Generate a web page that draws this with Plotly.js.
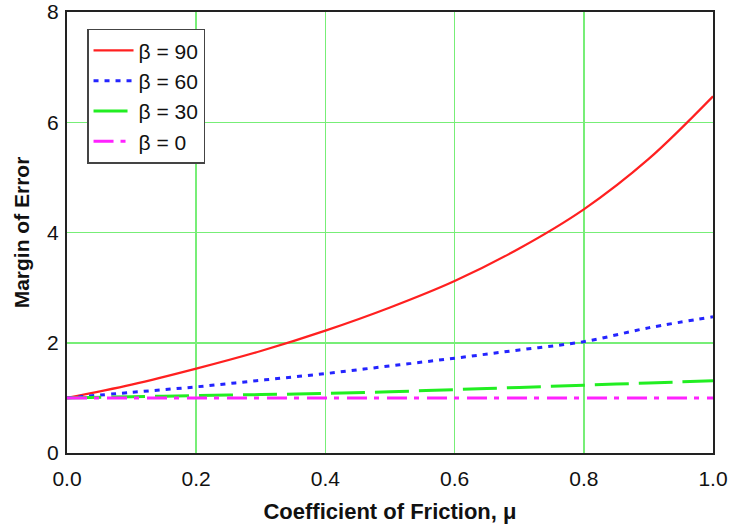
<!DOCTYPE html>
<html>
<head>
<meta charset="utf-8">
<script src="https://cdn.plot.ly/plotly-3.0.1.min.js"></script>
<style>html,body{margin:0;padding:0;background:#fff;}#chart{width:745px;height:526px;}</style>
</head>
<body>
<div id="chart"></div>
<script>
const mu = [0.0, 0.1, 0.2, 0.3, 0.4, 0.5, 0.6, 0.7, 0.8, 0.9, 1.0];
const beta90 = [1.0, 1.24, 1.53, 1.85, 2.22, 2.64, 3.12, 3.71, 4.42, 5.33, 6.47];
const beta60 = [1.0, 1.1, 1.2, 1.32, 1.44, 1.58, 1.72, 1.87, 2.02, 2.27, 2.47];
const beta30 = [1.0, 1.02, 1.04, 1.06, 1.08, 1.11, 1.15, 1.19, 1.23, 1.27, 1.31];
const beta0  = [1.0, 1.0, 1.0, 1.0, 1.0, 1.0, 1.0, 1.0, 1.0, 1.0, 1.0];
const seriesNames = ["β = 90", "β = 60", "β = 30", "β = 0"];
const xTickVals = [0, 0.2, 0.4, 0.6, 0.8, 1.0];
const xTickText = ["0.0", "0.2", "0.4", "0.6", "0.8", "1.0"];
const yTickVals = [0, 2, 4, 6, 8];

const font = "Liberation Sans, Arial, Helvetica, sans-serif";
const traces = [
  {x: mu, y: beta90, name: seriesNames[0], mode: "lines", line: {color: "#ff2020", width: 2.2, shape: "spline"}},
  {x: mu, y: beta60, name: seriesNames[1], mode: "lines", line: {color: "#2424ff", width: 3, dash: "5px,6px", shape: "spline"}},
  {x: mu, y: beta30, name: seriesNames[2], mode: "lines", line: {color: "#22ee22", width: 3, dash: "34px,10px", shape: "spline"}},
  {x: mu, y: beta0,  name: seriesNames[3], mode: "lines", line: {color: "#ff22ff", width: 3, dash: "20px,7px,5px,8px"}}
];

const axisCommon = {
  showgrid: true, gridcolor: "#77ee77", gridwidth: 1.5,
  showline: true, linecolor: "#222", linewidth: 2, mirror: true,
  zeroline: false, ticks: "", tickfont: {family: font, size: 21, color: "#111"}
};

const layout = {
  width: 745, height: 526,
  margin: {l: 67, r: 32, t: 12, b: 73},
  paper_bgcolor: "#fff", plot_bgcolor: "#fff",
  showlegend: true,
  legend: {
    x: 0.031, y: 0.962, xanchor: "left", yanchor: "top",
    bgcolor: "#fff", bordercolor: "#444", borderwidth: 1.5,
    font: {family: font, size: 21, color: "#111"},
    tracegroupgap: 0, itemwidth: 40
  },
  xaxis: Object.assign({}, axisCommon, {
    range: [0, 1], tickvals: xTickVals, ticktext: xTickText,
    ticklabelstandoff: 6,
    title: {text: "Coefficient of Friction, μ", font: {family: font, size: 22, color: "#111", weight: "bold"}, standoff: 14}
  }),
  yaxis: Object.assign({}, axisCommon, {
    range: [0, 8], tickvals: yTickVals,
    ticklabelstandoff: 2,
    title: {text: "Margin of Error", font: {family: font, size: 21, color: "#111", weight: "bold"}, standoff: 12}
  })
};

Plotly.newPlot("chart", traces, layout, {staticPlot: true, displayModeBar: false});
</script>
</body>
</html>
